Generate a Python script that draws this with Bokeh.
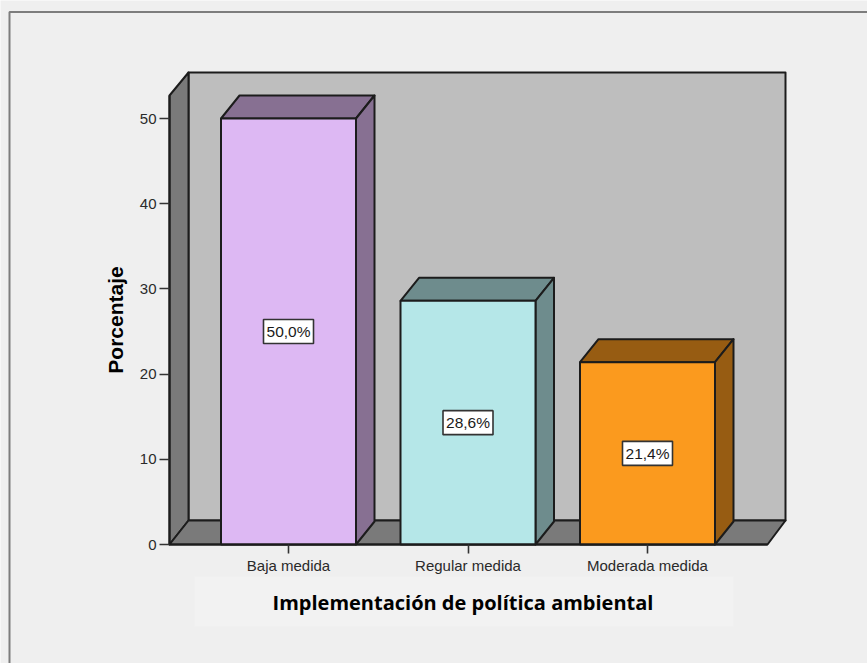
from bokeh.core.properties import value
from bokeh.embed import file_html
from bokeh.models import FixedTicker, LinearAxis, Range1d
from bokeh.plotting import figure
from bokeh.resources import INLINE

# Chart data
categories = ["Baja medida", "Regular medida", "Moderada medida"]
percentages = [50.0, 28.6, 21.4]
y_ticks = [0, 10, 20, 30, 40, 50]
face_colors = ["#DDB8F3", "#B5E7E8", "#FB9A1E"]
side_colors = ["#877092", "#6E8C8D", "#975C12"]
x_title = "Implementación de política ambiental"
y_title = "Porcentaje"

WIDTH, HEIGHT = 867, 663
PX_PER_CATEGORY = 179.5
PX_PER_PERCENT = 8.52
X0_PX, Y0_PX = 288, 544  # canvas position of the first category at 0 %
LINE = "#1c1c1c"


def sx(px):
    return (px - X0_PX) / PX_PER_CATEGORY


def sy(px):
    return (Y0_PX - px) / PX_PER_PERCENT


p = figure(
    width=WIDTH, height=HEIGHT, output_backend="svg", toolbar_location=None,
    x_range=Range1d(sx(0), sx(WIDTH)), y_range=Range1d(sy(HEIGHT), sy(0)),
    min_border=0, background_fill_color="#EFEFEF", border_fill_color="#EFEFEF",
    outline_line_color=None, x_axis_location=None, y_axis_location=None,
)
p.grid.visible = False


def poly(points, fill, line=LINE, width=2):
    p.patch([sx(a) for a, _ in points], [sy(b) for _, b in points],
            fill_color=fill, line_color=line, line_width=width, line_join="round")


# Outer chart border
p.line([sx(867), sx(9), sx(9)], [sy(11.5), sy(11.5), sy(663)], line_color="#7D7D7D", line_width=2)

# Lighter panel behind the category title, with the title centred on it
p.quad(left=[sx(194)], right=[sx(733)], bottom=[sy(626)], top=[sy(576)],
       fill_color="#F2F2F2", line_color=None)
p.text([sx(462.5)], [sy(602)], text=[x_title], text_align="center", text_baseline="middle",
       text_font=value("Open Sans"), text_font_style="bold", text_font_size="20px", text_color="black")

# Back wall, side wall and floor of the 3D box
poly([(188, 72), (785, 72), (785, 520), (188, 520)], "#BEBEBE")
poly([(169, 95), (188, 72), (188, 520), (169, 544)], "#7A7A7A")
poly([(169, 544), (188, 520), (785, 520), (767, 544)], "#7A7A7A")

# Bars: front face plus top and right faces
HALF_BAR, BAR_DX, BAR_DY = 67.5, 18.5, 23
for i, pct in enumerate(percentages):
    cx = X0_PX + i * PX_PER_CATEGORY
    left, right = cx - HALF_BAR, cx + HALF_BAR
    top = Y0_PX - pct * PX_PER_PERCENT
    poly([(left, top), (left + BAR_DX, top - BAR_DY), (right + BAR_DX, top - BAR_DY), (right, top)], side_colors[i])
    poly([(right, top), (right + BAR_DX, top - BAR_DY), (right + BAR_DX, Y0_PX - BAR_DY), (right, Y0_PX)], side_colors[i])
    p.quad(left=[sx(left)], right=[sx(right)], bottom=[0], top=[pct],
           fill_color=face_colors[i], line_color=LINE, line_width=2)

# Value labels in white boxes, centred on each bar
label_x = list(range(len(percentages)))
label_y = [v / 2 for v in percentages]
label_text = [f"{v:.1f}%".replace(".", ",") for v in percentages]
p.rect(label_x, label_y, width=50, height=24, width_units="screen", height_units="screen",
       fill_color="white", line_color="#333333", line_width=1.6)
p.text(label_x, label_y, text=label_text, text_align="center", text_baseline="middle",
       text_font=value("Liberation Sans"), text_font_size="15.5px", text_color="#1a1a1a")

# Axes pinned to the front edge of the box
xaxis = LinearAxis(
    fixed_location=0, bounds=(sx(169), sx(767)),
    ticker=FixedTicker(ticks=label_x),
    major_label_overrides={i: c for i, c in enumerate(categories)},
    major_label_text_font="Liberation Sans", major_label_text_font_size="15px",
    major_label_text_color="#2a2a2a", major_label_standoff=3,
    major_tick_in=0, major_tick_out=9, minor_tick_line_color=None,
    major_tick_line_color="#333333", major_tick_line_width=1.6,
    axis_line_color=LINE, axis_line_width=2,
)
p.add_layout(xaxis, "below")

yaxis = LinearAxis(
    fixed_location=sx(169), bounds=(0, sy(95)),
    ticker=FixedTicker(ticks=y_ticks),
    major_label_text_font="Liberation Sans", major_label_text_font_size="15px",
    major_label_text_color="#2a2a2a", major_label_standoff=3,
    major_tick_in=0, major_tick_out=10, minor_tick_line_color=None,
    major_tick_line_color="#333333", major_tick_line_width=1.6,
    axis_line_color=LINE, axis_line_width=2,
    axis_label=y_title, axis_label_text_font="Liberation Sans",
    axis_label_text_font_style="bold", axis_label_text_font_size="21px",
    axis_label_text_color="black", axis_label_standoff=10,
)
p.add_layout(yaxis, "left")

open("out.html", "w").write(file_html(p, INLINE))
